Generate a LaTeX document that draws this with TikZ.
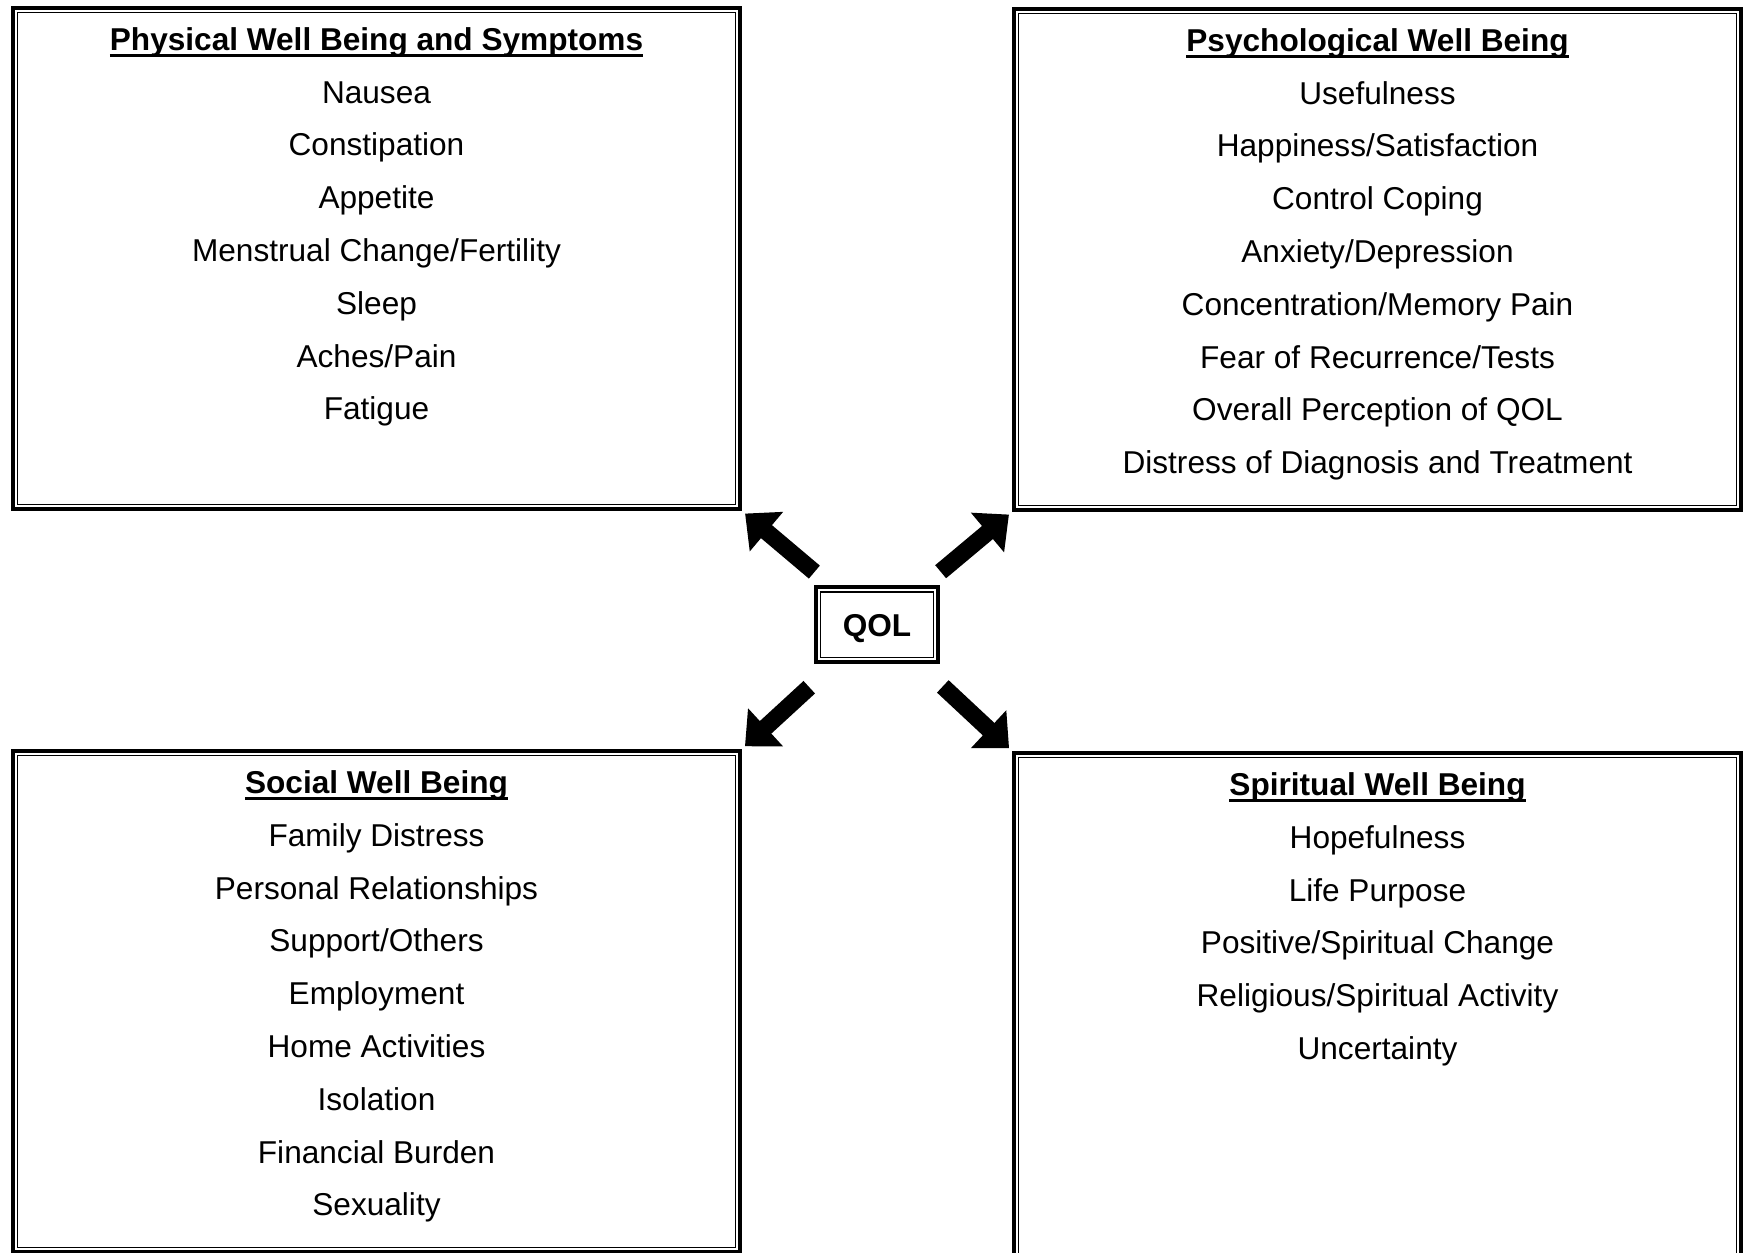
\documentclass[tikz,border=0pt]{standalone}
\usepackage{fontspec}
\setmainfont{Liberation Sans}
\usetikzlibrary{positioning,arrows.meta}
\newsavebox\titlebox
\newcommand\boxtitle[1]{\rule{0pt}{12pt}\sbox\titlebox{\bfseries #1}%
  \rlap{\rule[-3.5pt]{\wd\titlebox}{1.5pt}}\usebox\titlebox}
\begin{document}
\begin{tikzpicture}[x=0.5pt,y=0.5pt,
  wellbox/.style={draw,line width=2pt,anchor=north west,inner sep=0pt,
    minimum width=363.5pt,minimum height=250.5pt},
  qolbox/.style={draw,line width=2pt,inner sep=0pt,
    minimum width=61pt,minimum height=37.5pt,text height=11.4pt,text depth=0pt,
    font=\fontsize{15.8pt}{19pt}\selectfont\bfseries},
  itemlist/.style={align=center,inner sep=0pt,
    font=\fontsize{15.8pt}{26.4pt}\selectfont},
  innerline/.style={line width=0.6pt},
  fatarrow/.style={line width=8.5pt,-{Triangle[length=14pt,width=25pt]},
    shorten >=2pt}]
  \clip (0,0) rectangle (1743,1252);
  % the four boxes and QOL:
  \node[wellbox] (phys) at (11,1246) {};
  \node[wellbox] (psych) at (1012,1245) {};
  \node[wellbox] (social) at (11,503) {};
  \node[wellbox,minimum height=256pt] (spirit) at (1012,501) {};
  \node[qolbox] (qol) at (877,627) {QOL};
  % thin inner lines of the double frames:
  \foreach \b in {phys,psych,social,spirit,qol}
    \draw[innerline] ([shift={(3.3pt,-3.3pt)}]\b.north west)
      rectangle ([shift={(-3.3pt,3.3pt)}]\b.south east);
  % lists:
  \node[itemlist,below=10pt of phys.north] (physlist) {\boxtitle{Physical Well Being and Symptoms}\\
    Nausea\\ Constipation\\ Appetite\\ Menstrual Change/Fertility\\ Sleep\\ Aches/Pain\\ Fatigue};
  \node[itemlist,below=10pt of psych.north] (psychlist) {\boxtitle{Psychological Well Being}\\
    Usefulness\\ Happiness/Satisfaction\\ Control Coping\\ Anxiety/Depression\\
    Concentration/Memory Pain\\ Fear of Recurrence/Tests\\ Overall Perception of QOL\\
    Distress of Diagnosis and Treatment};
  \node[itemlist,below=10pt of social.north] (sociallist) {\boxtitle{Social Well Being}\\
    Family Distress\\ Personal Relationships\\ Support/Others\\ Employment\\
    Home Activities\\ Isolation\\ Financial Burden\\ Sexuality};
  \node[itemlist,below=10pt of spirit.north] (spiritlist) {\boxtitle{Spiritual Well Being}\\
    Hopefulness\\ Life Purpose\\ Positive/Spiritual Change\\ Religious/Spiritual Activity\\
    Uncertainty};
  % arrows from QOL:
  \draw[fatarrow,shorten <=41pt] (qol.center) -- (phys.south east);
  \draw[fatarrow,shorten <=41.5pt] (qol.center) -- (psych.south west);
  \draw[fatarrow,shorten <=46pt] (qol.center) -- (social.north east);
  \draw[fatarrow,shorten <=45pt] (qol.center) -- (spirit.north west);
\end{tikzpicture}
\end{document}
